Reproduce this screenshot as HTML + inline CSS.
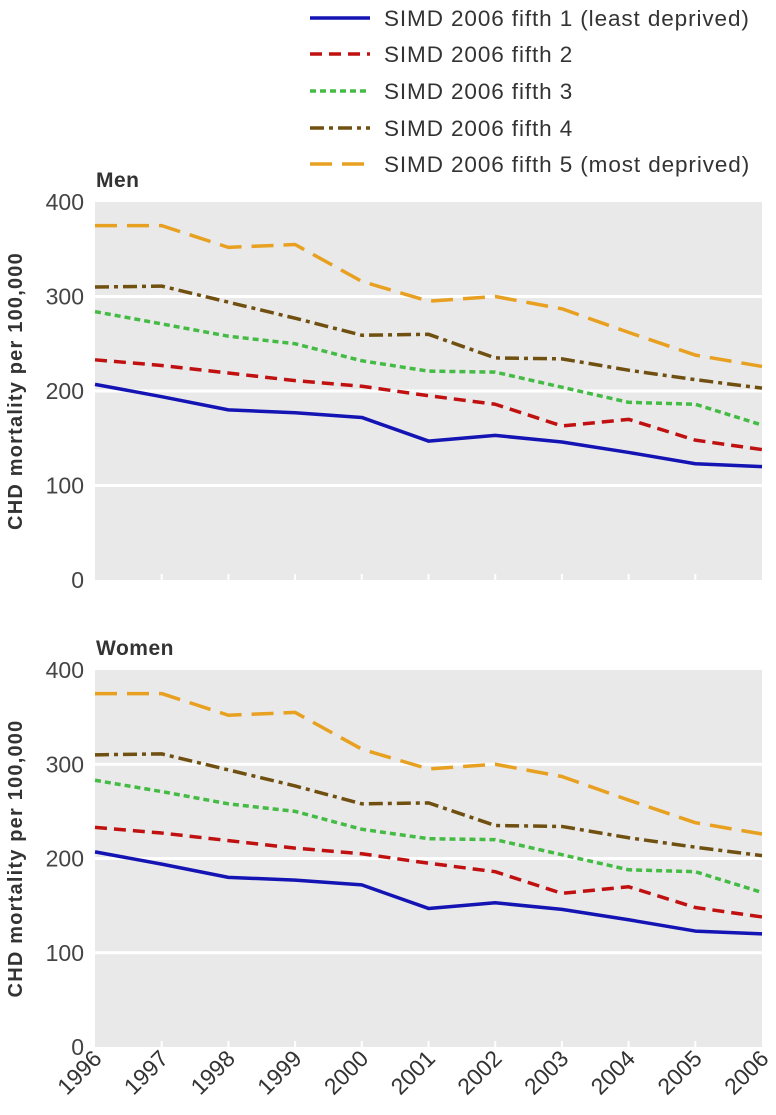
<!DOCTYPE html>
<html><head><meta charset="utf-8"><style>
body{margin:0;background:#fff;}
svg text{font-family:"Liberation Sans",sans-serif;}
</style></head><body>
<svg id="c" width="776" height="1110" xmlns="http://www.w3.org/2000/svg"></svg>
<script>
const years=[1996,1997,1998,1999,2000,2001,2002,2003,2004,2005,2006];
const yTicks=[0,100,200,300,400];
const seriesNames=["SIMD 2006 fifth 1 (least deprived)","SIMD 2006 fifth 2","SIMD 2006 fifth 3","SIMD 2006 fifth 4","SIMD 2006 fifth 5 (most deprived)"];
const menF1=[207,194,180,177,172,147,153,146,135,123,120];
const menF2=[233,227,219,211,205,195,186,163,170,148,138];
const menF3=[284,271,258,250,232,221,220,204,188,186,164];
const menF4=[310,311,294,277,259,260,235,234,222,212,203];
const menF5=[375,375,352,355,316,295,300,287,262,238,226];
const womenF1=[207,194,180,177,172,147,153,146,135,123,120];
const womenF2=[233,227,219,211,205,195,186,163,170,148,138];
const womenF3=[283,271,258,250,231,221,220,204,188,186,164];
const womenF4=[310,311,294,277,258,259,235,234,222,212,203];
const womenF5=[375,375,352,355,316,295,300,287,262,238,226];

const styles=[
 {c:"#1414b4",d:"",w:3.5},
 {c:"#c01010",d:"12 7",w:3.5},
 {c:"#44bb44",d:"6 4",w:3.5},
 {c:"#705010",d:"14 5 4 5",w:3.5},
 {c:"#e8a020",d:"22 10",w:3.5}
];
const svg=document.getElementById('c');
const NS="http://www.w3.org/2000/svg";
function mk(t,a,p){const e=document.createElementNS(NS,t);for(const k in a)e.setAttribute(k,a[k]);(p||svg).appendChild(e);return e;}
const x0=95,x1=762;
function xs(i){return x0+(x1-x0)*i/(years.length-1);}

const legY=[18,54,91,128,164];
seriesNames.forEach((n,i)=>{
 const g=mk('g',{});
 
 
 mk('line',{x1:310,x2:370,y1:legY[i],y2:legY[i],stroke:styles[i].c,'stroke-width':3.5,'stroke-dasharray':styles[i].d},g);
 const t=mk('text',{x:384,y:legY[i]+8,'font-size':22.5,'letter-spacing':0.9,fill:'#333'},g);t.textContent=n;
});

function panel(name,title,top,bottom,data){
 const g=mk('g',{});
 
 
 const ys=v=>bottom-(bottom-top)*v/400;
 mk('rect',{x:x0,y:top,width:x1-x0,height:bottom-top,fill:'#e9e9e9'},g);
 yTicks.forEach(v=>{
  if(v>0&&v<400)mk('line',{x1:x0,x2:x1,y1:ys(v),y2:ys(v),stroke:'#fff','stroke-width':3},g);
  const t=mk('text',{x:84,y:ys(v)+8,'font-size':23,fill:'#444','text-anchor':'end'},g);t.textContent=v;
  
  
 });
 years.forEach((y,i)=>{if(i>0&&i<years.length-1)mk('line',{x1:xs(i),x2:xs(i),y1:bottom-6,y2:bottom,stroke:'#fff','stroke-width':2},g);});
 const tt=mk('text',{x:96,y:top-15,'font-size':21,'font-weight':'bold','letter-spacing':0.5,fill:'#333'},g);tt.textContent=title;
 
 
 const at=mk('text',{transform:`translate(22,${(top+bottom)/2}) rotate(-90)`,'font-size':20,'font-weight':'bold','letter-spacing':1.2,fill:'#333','text-anchor':'middle'},g);
 at.textContent='CHD mortality per 100,000';
 
 
 data.forEach((arr,si)=>{
  const p=mk('polyline',{points:arr.map((v,i)=>xs(i)+','+ys(v)).join(' '),fill:'none',stroke:styles[si].c,'stroke-width':styles[si].w,'stroke-dasharray':styles[si].d,'stroke-linejoin':'round'},g);
  
  
 });
}
panel('men','Men',202,580,[menF1,menF2,menF3,menF4,menF5]);
panel('women','Women',670,1047,[womenF1,womenF2,womenF3,womenF4,womenF5]);

years.forEach((y,i)=>{
 const t=mk('text',{transform:`translate(${xs(i)+8},${1060}) rotate(-45)`,'font-size':23,fill:'#333','text-anchor':'end'});
 t.textContent=y;
 
 
});
</script>
</body></html>
